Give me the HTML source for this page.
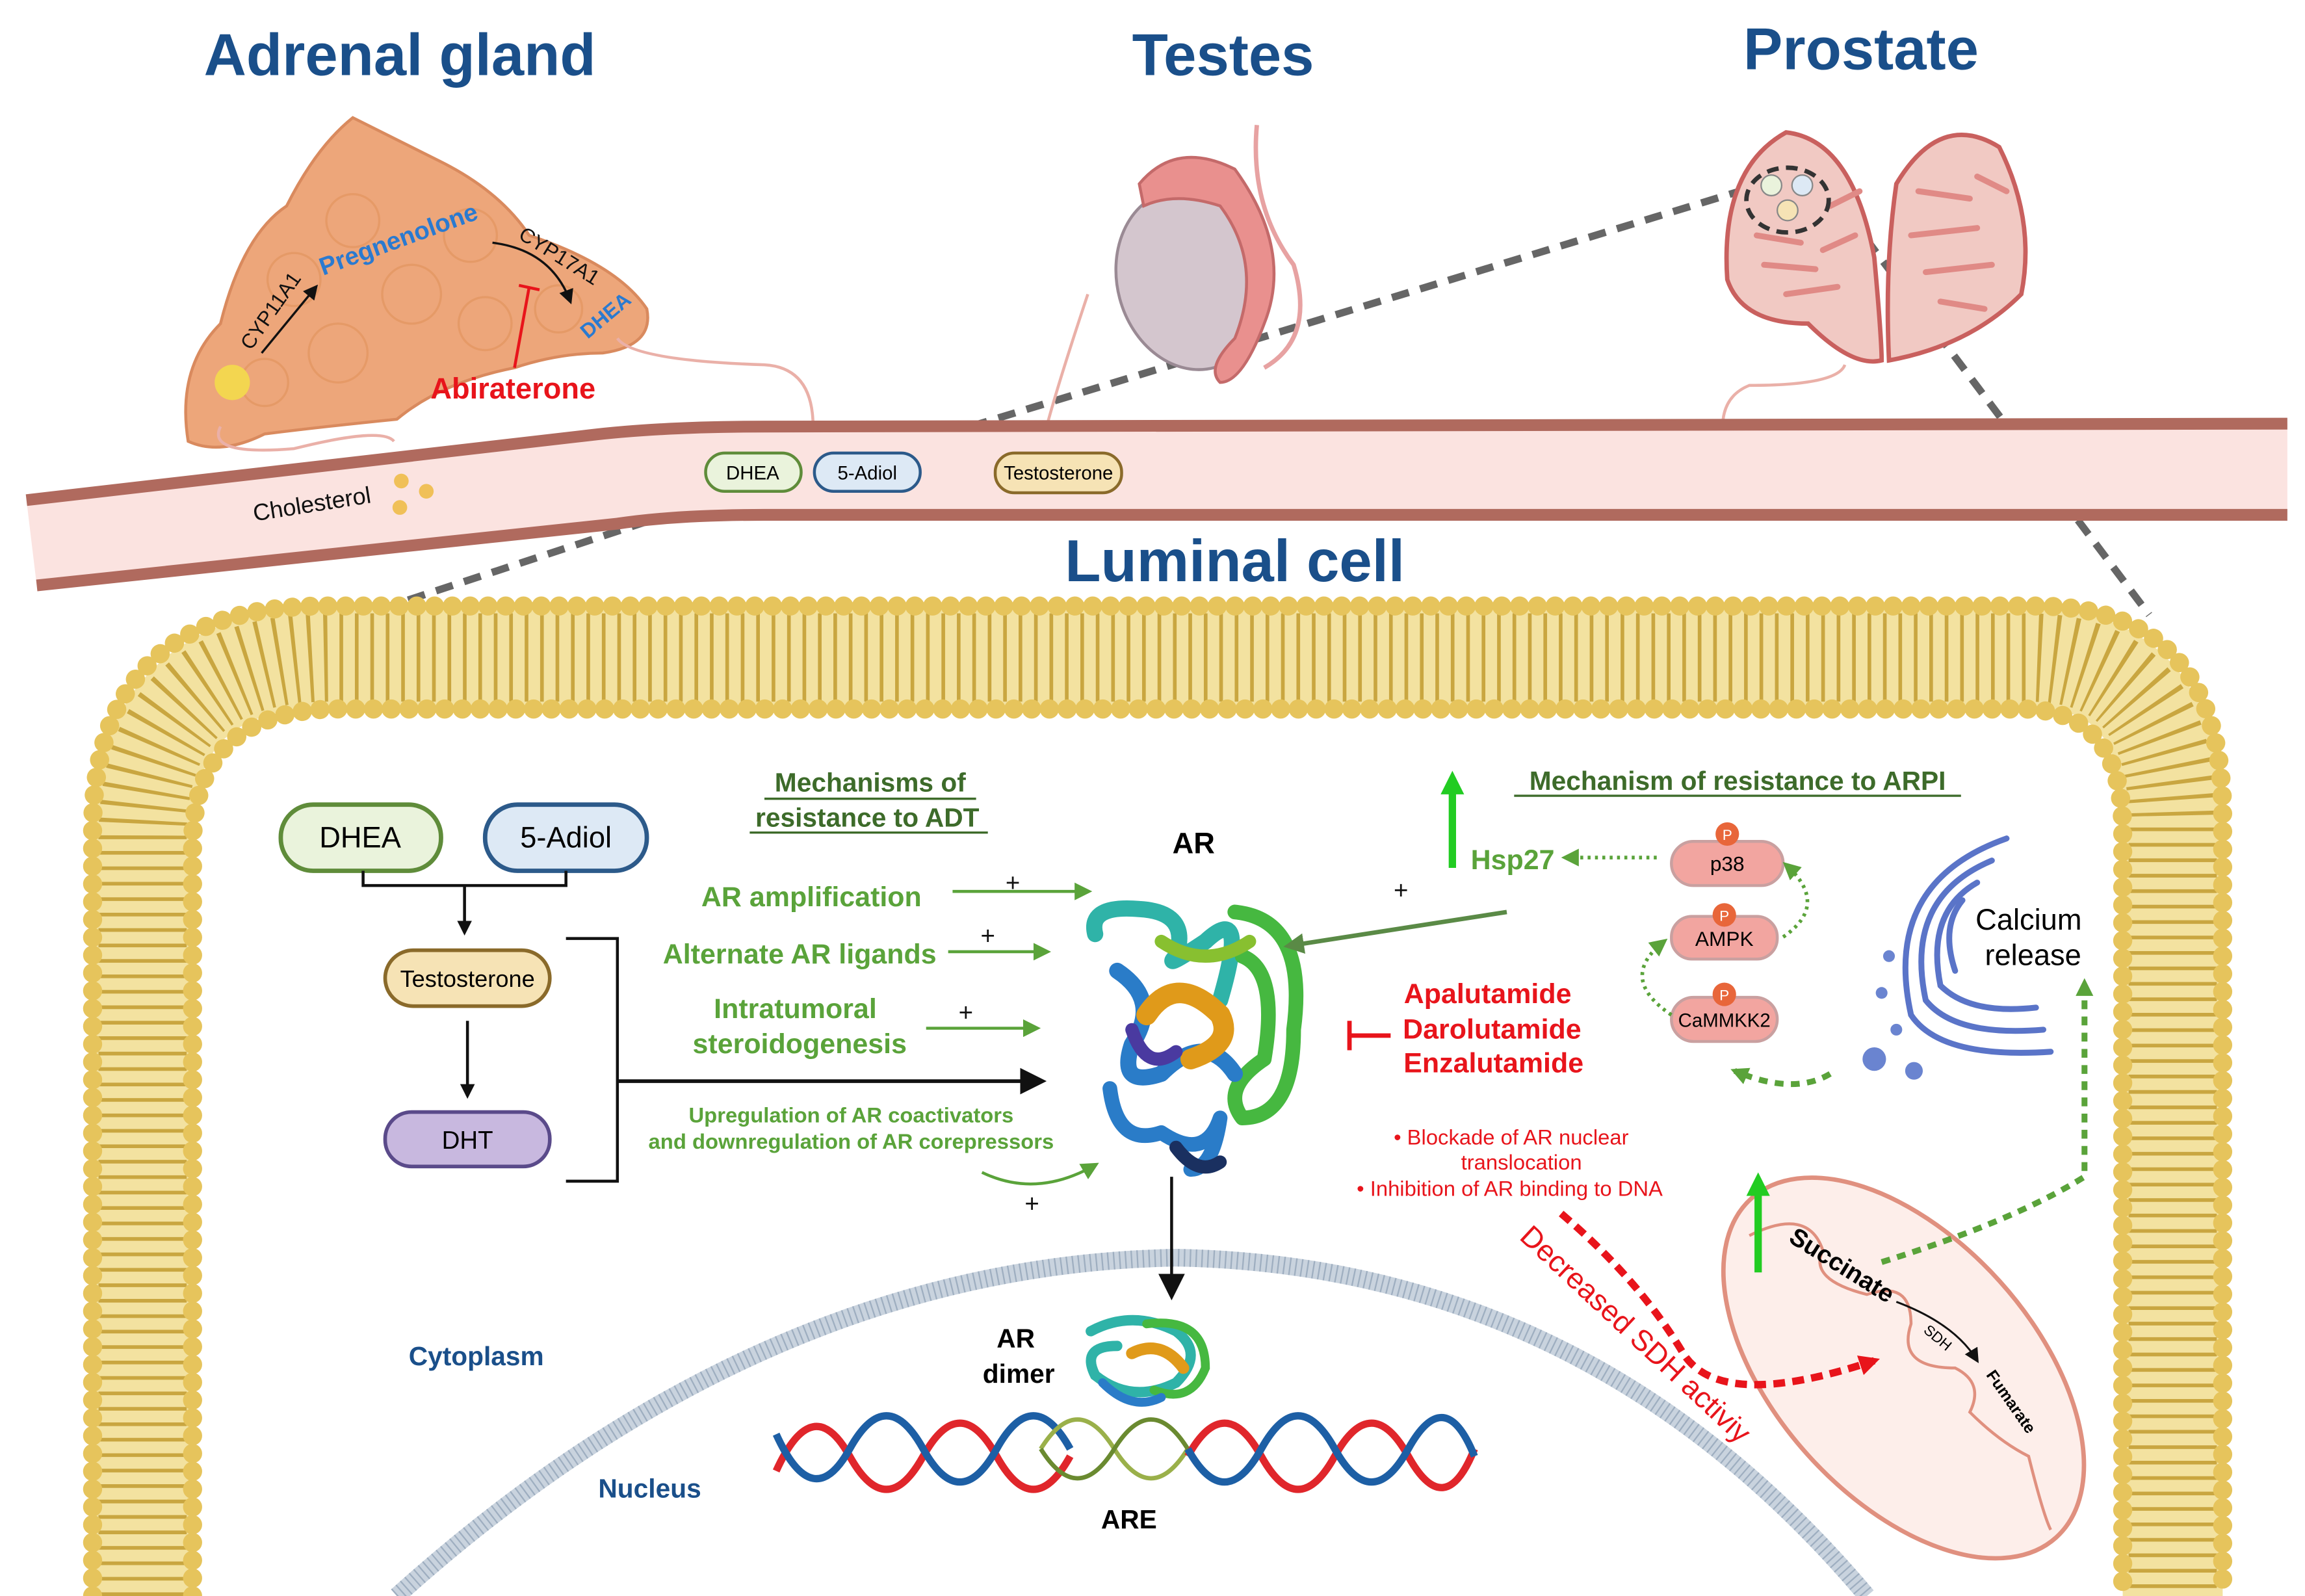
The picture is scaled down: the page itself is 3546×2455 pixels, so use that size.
<!DOCTYPE html>
<html><head><meta charset="utf-8"><style>
html,body{margin:0;padding:0;background:#fff}
svg{display:block}
text{font-family:"Liberation Sans Narrow","Liberation Sans",sans-serif}
</style></head><body>
<svg width="3546" height="2455" viewBox="0 0 1568 1085" preserveAspectRatio="none" xmlns="http://www.w3.org/2000/svg">
<defs>
<marker id="ab" markerWidth="10" markerHeight="10" refX="8" refY="5" orient="auto" markerUnits="userSpaceOnUse"><path d="M0,0 L10,5 L0,10z" fill="#111"/></marker>
<marker id="ag" markerWidth="12" markerHeight="12" refX="9" refY="6" orient="auto" markerUnits="userSpaceOnUse"><path d="M0,0 L12,6 L0,12z" fill="#5aa33a"/></marker>
<marker id="adg" markerWidth="14" markerHeight="14" refX="10" refY="7" orient="auto" markerUnits="userSpaceOnUse"><path d="M0,0 L14,7 L0,14z" fill="#5a8a46"/></marker>
<marker id="ar" markerWidth="14" markerHeight="14" refX="10" refY="7" orient="auto" markerUnits="userSpaceOnUse"><path d="M0,0 L14,7 L0,14z" fill="#e8141b"/></marker>
<marker id="abig" markerWidth="18" markerHeight="18" refX="12" refY="9" orient="auto" markerUnits="userSpaceOnUse"><path d="M0,0 L18,9 L0,18z" fill="#111"/></marker>
<marker id="agr" markerWidth="16" markerHeight="16" refX="10" refY="8" orient="auto" markerUnits="userSpaceOnUse"><path d="M0,0 L16,8 L0,16z" fill="#22cc22"/></marker>
</defs>
<rect width="1568" height="1085" fill="#fff"/>

<g font-weight="bold" fill="#1a4f8a" text-anchor="middle" font-size="40">
<text x="272" y="51">Adrenal gland</text>
<text x="832" y="51">Testes</text>
<text x="1266" y="47">Prostate</text>
<text x="840" y="395">Luminal cell</text>
</g>

<g stroke="#666" stroke-width="5" stroke-dasharray="12 8" fill="none">
<path d="M660 290 L1190 128"/>
<path d="M1245 130 L1462 418"/>
<path d="M460 348 L180 440"/>
</g>

<path d="M128 300 Q120 250 150 220 Q165 160 195 140 Q215 100 240 80 Q270 95 300 110 Q340 130 360 160 Q420 180 440 210 Q445 235 410 240 Q380 240 350 250 Q300 260 270 285 Q220 290 180 295 Q150 310 128 300z" fill="#eda67a" stroke="#d98a5e" stroke-width="2"/>
<g fill="none" stroke="#e3955f" stroke-width="1.5" opacity="0.7">
<circle cx="200" cy="190" r="18"/><circle cx="240" cy="150" r="18"/><circle cx="280" cy="200" r="20"/><circle cx="320" cy="160" r="18"/><circle cx="230" cy="240" r="20"/><circle cx="180" cy="260" r="16"/><circle cx="330" cy="220" r="18"/><circle cx="380" cy="210" r="16"/>
</g>
<circle cx="158" cy="260" r="12" fill="#f3d650"/>
<path d="M150 290 Q140 310 200 305 Q260 290 268 300" fill="none" stroke="#eab0a8" stroke-width="2"/>
<path d="M420 230 Q430 245 520 248 Q555 250 553 295" fill="none" stroke="#eab0a8" stroke-width="2"/>
<path d="M178 240 L215 195" stroke="#111" stroke-width="1.5" marker-end="url(#ab)"/>
<text x="188" y="214" font-size="14" fill="#111" transform="rotate(-55 188 214)" text-anchor="middle">CYP11A1</text>
<text x="273" y="168" font-size="17" font-weight="bold" fill="#2a7ad0" transform="rotate(-20 273 168)" text-anchor="middle">Pregnenolone</text>
<path d="M335 165 Q375 170 388 205" fill="none" stroke="#111" stroke-width="1.5" marker-end="url(#ab)"/>
<text x="378" y="178" font-size="14" fill="#111" transform="rotate(32 378 178)" text-anchor="middle">CYP17A1</text>
<text x="415" y="218" font-size="14" font-weight="bold" fill="#2a7ad0" transform="rotate(-40 415 218)" text-anchor="middle">DHEA</text>
<path d="M350 250 L360 195 M353 194 L367 197" stroke="#e8141b" stroke-width="2" fill="none"/>
<text x="349" y="271" font-size="20" font-weight="bold" fill="#e8141b" text-anchor="middle">Abiraterone</text>

<path d="M855 85 Q850 140 880 180 Q895 230 860 250" fill="none" stroke="#e7a2a2" stroke-width="3"/>
<path d="M740 200 Q720 260 712 290" fill="none" stroke="#eab0a8" stroke-width="2"/>
<ellipse cx="810" cy="190" rx="50" ry="62" fill="#d4c6ce" stroke="#9a8a94" stroke-width="2" transform="rotate(-15 810 190)"/>
<path d="M775 125 Q800 95 840 115 Q880 170 860 220 Q845 260 830 260 Q820 250 840 230 Q860 180 830 140 Q800 130 778 140z" fill="#e9908e" stroke="#c46a6a" stroke-width="2"/>

<path d="M1175 190 Q1170 115 1215 90 Q1260 95 1275 175 Q1280 230 1280 245 Q1260 250 1230 220 Q1185 220 1175 190z" fill="#f1c9c3" stroke="#c9605e" stroke-width="3"/>
<path d="M1285 245 Q1282 180 1290 125 Q1320 75 1360 100 Q1385 150 1375 200 Q1340 235 1285 245z" fill="#f1c9c3" stroke="#c9605e" stroke-width="3"/>
<g stroke="#e08a86" stroke-width="4" stroke-linecap="round">
<path d="M1195 160 L1225 165 M1200 180 L1235 183 M1215 200 L1250 195 M1240 170 L1262 160 M1245 140 L1265 130"/>
<path d="M1305 130 L1340 135 M1300 160 L1345 155 M1310 185 L1355 180 M1320 205 L1350 210 M1345 120 L1365 130"/>
</g>
<ellipse cx="1216" cy="136" rx="28" ry="22" fill="none" stroke="#333" stroke-width="3" stroke-dasharray="8 5"/>
<circle cx="1205" cy="126" r="7" fill="#eaf3dc" stroke="#888"/><circle cx="1226" cy="126" r="7" fill="#dde9f5" stroke="#888"/><circle cx="1216" cy="143" r="7" fill="#f6e3b5" stroke="#888"/>
<path d="M1255 248 Q1250 262 1190 262 Q1170 270 1172 295" fill="none" stroke="#eab0a8" stroke-width="2"/>

<path d="M18 340 L400 296 Q450 290 520 290 L1556 288 L1556 350 L520 350 Q460 350 420 356 L25 398 Z" fill="#fbe3e0"/>
<path d="M18 340 L400 296 Q450 290 520 290 L1556 288" fill="none" stroke="#b06a5e" stroke-width="8"/>
<path d="M1556 350 L520 350 Q460 350 420 356 L25 398" fill="none" stroke="#b06a5e" stroke-width="8"/>
<text x="213" y="348" font-size="16" fill="#111" transform="rotate(-9 213 348)" text-anchor="middle">Cholesterol</text>
<circle cx="273" cy="327" r="5" fill="#f0c058"/><circle cx="290" cy="334" r="5" fill="#f0c058"/><circle cx="272" cy="345" r="5" fill="#f0c058"/>
<rect x="480" y="308" width="65" height="26" rx="13" fill="#eaf3dc" stroke="#5f8c3a" stroke-width="2"/>
<text x="512" y="326" font-size="13" text-anchor="middle">DHEA</text>
<rect x="554" y="308" width="72" height="26" rx="13" fill="#dde9f5" stroke="#2c5a8a" stroke-width="2"/>
<text x="590" y="326" font-size="13" text-anchor="middle">5-Adiol</text>
<rect x="677" y="308" width="86" height="27" rx="13" fill="#f6e3b5" stroke="#8a6a2a" stroke-width="2"/>
<text x="720" y="326" font-size="13" text-anchor="middle">Testosterone</text>

<path d="M97 1085 L97 570 Q97 445 230 447 L1380 447 Q1478 447 1478 560 L1478 1085" fill="none" stroke="#f3e2a0" stroke-width="68"/>
<path d="M97 1085 L97 570 Q97 445 230 447 L1380 447 Q1478 447 1478 560 L1478 1085" fill="none" stroke="#c9a640" stroke-width="60" stroke-dasharray="2.5 8"/>
<path d="M63 1085 L63 565 Q63 410 225 412 L1385 412 Q1512 412 1512 555 L1512 1085" fill="none" stroke="#e6c45c" stroke-width="13" stroke-dasharray="0.1 12" stroke-linecap="round"/>
<path d="M131 1085 L131 575 Q131 480 235 482 L1375 482 Q1444 482 1444 565 L1444 1085" fill="none" stroke="#e6c45c" stroke-width="13" stroke-dasharray="0.1 12" stroke-linecap="round"/>

<path d="M270 1085 Q520 860 800 855 Q1080 860 1270 1085" fill="none" stroke="#c9d3de" stroke-width="12"/>
<path d="M270 1085 Q520 860 800 855 Q1080 860 1270 1085" fill="none" stroke="#9eaec0" stroke-width="12" stroke-dasharray="1 3"/>
<text x="324" y="928" font-size="18" font-weight="bold" fill="#1a4f8a" text-anchor="middle">Cytoplasm</text>
<text x="442" y="1018" font-size="18" font-weight="bold" fill="#1a4f8a" text-anchor="middle">Nucleus</text>

<rect x="191" y="547" width="109" height="45" rx="22" fill="#eaf3dc" stroke="#5f8c3a" stroke-width="3"/>
<text x="245" y="576" font-size="20" text-anchor="middle">DHEA</text>
<rect x="330" y="547" width="110" height="45" rx="22" fill="#dde9f5" stroke="#2c5a8a" stroke-width="3"/>
<text x="385" y="576" font-size="20" text-anchor="middle">5-Adiol</text>
<path d="M247 592 L247 602 L385 602 L385 592 M316 602 L316 634" stroke="#111" stroke-width="2" fill="none" marker-end="url(#ab)"/>
<rect x="262" y="646" width="112" height="38" rx="19" fill="#f6e3b5" stroke="#8a6a2a" stroke-width="2.5"/>
<text x="318" y="671" font-size="16" text-anchor="middle">Testosterone</text>
<path d="M318 694 L318 745" stroke="#111" stroke-width="2" marker-end="url(#ab)"/>
<rect x="262" y="756" width="112" height="37" rx="18" fill="#c8b8df" stroke="#5a4a8a" stroke-width="2.5"/>
<text x="318" y="781" font-size="17" text-anchor="middle">DHT</text>
<path d="M385 638 L420 638 L420 803 L385 803" stroke="#111" stroke-width="2" fill="none"/>
<path d="M420 735 L706 735" stroke="#111" stroke-width="2.5" marker-end="url(#abig)"/>

<g fill="#3d6b2a" font-size="18" font-weight="bold" text-anchor="middle">
<text x="592" y="538">Mechanisms of</text>
<text x="590" y="562">resistance to ADT</text>
</g>
<path d="M520 543 L664 543 M510 566 L672 566" stroke="#3d6b2a" stroke-width="1.5"/>
<g fill="#5aa33a" font-weight="bold" text-anchor="middle">
<text x="552" y="616" font-size="19">AR amplification</text>
<text x="544" y="655" font-size="19">Alternate AR ligands</text>
<text x="541" y="692" font-size="19">Intratumoral</text>
<text x="544" y="716" font-size="19">steroidogenesis</text>
<text x="579" y="763" font-size="14.5">Upregulation of AR coactivators</text>
<text x="579" y="781" font-size="14.5">and downregulation of AR corepressors</text>
</g>
<g stroke="#5aa33a" stroke-width="2" fill="none" marker-end="url(#ag)">
<path d="M648 606 L740 606"/><path d="M645 647 L712 647"/><path d="M630 699 L705 699"/>
<path d="M668 797 Q705 815 745 792"/>
</g>
<g font-size="17" fill="#111" text-anchor="middle"><text x="689" y="606">+</text><text x="672" y="642">+</text><text x="657" y="694">+</text><text x="702" y="824">+</text><text x="953" y="611">+</text></g>

<text x="812" y="580" font-size="20" font-weight="bold" text-anchor="middle">AR</text>
<g fill="none" stroke-linecap="round" stroke-linejoin="round">
<path d="M745 635 Q740 615 775 618 Q810 620 800 650 Q790 660 820 640 Q850 612 830 680" stroke="#2fb3a8" stroke-width="11"/>
<path d="M840 620 Q890 625 880 700 Q880 760 845 760 Q830 740 860 720 Q870 660 845 650" stroke="#46b840" stroke-width="10"/>
<path d="M760 660 Q790 680 770 710 Q760 740 790 730 Q820 700 840 730" stroke="#2a7cc8" stroke-width="11"/>
<path d="M755 740 Q760 780 790 770 Q820 790 830 760 Q825 795 810 795" stroke="#2a7cc8" stroke-width="10"/>
<path d="M780 690 Q800 660 830 690 Q840 710 810 720" stroke="#e09a1a" stroke-width="14"/>
<path d="M770 700 Q780 730 800 715" stroke="#4a3aa0" stroke-width="9"/>
<path d="M790 640 Q820 660 850 640" stroke="#88c030" stroke-width="9"/>
<path d="M800 780 Q815 800 830 790" stroke="#1a3060" stroke-width="9"/>
</g>
<path d="M797 800 L797 878" stroke="#111" stroke-width="2" marker-end="url(#abig)"/>

<g fill="none" stroke-linecap="round">
<path d="M742 905 Q770 890 800 905 Q820 920 800 940 Q770 955 745 935 Q735 915 760 915" stroke="#2fb3a8" stroke-width="7"/>
<path d="M780 900 Q820 895 820 930 Q810 955 785 945" stroke="#46b840" stroke-width="6"/>
<path d="M770 920 Q790 910 805 930" stroke="#e09a1a" stroke-width="8"/>
<path d="M750 940 Q770 960 790 950" stroke="#2a7cc8" stroke-width="6"/>
</g>
<text x="691" y="916" font-size="18" font-weight="bold" text-anchor="middle">AR</text>
<text x="693" y="940" font-size="18" font-weight="bold" text-anchor="middle">dimer</text>

<g fill="none" stroke-width="5">
<path d="M528 1000 Q553 945 578 990 T628 990 T678 990 T728 990" stroke="#e0262b"/>
<path d="M528 975 Q553 1030 578 985 T628 985 T678 985 T728 985" stroke="#1d5fa5"/>
<path d="M708 985 Q733 945 758 985 T808 985" stroke="#9ab04a" stroke-width="3"/>
<path d="M708 985 Q733 1025 758 985 T808 985" stroke="#6a8a30" stroke-width="3"/>
<path d="M808 990 Q833 945 858 990 T908 990 T958 990 T1003 985" stroke="#e0262b"/>
<path d="M808 985 Q833 1030 858 985 T908 985 T958 985 T1003 990" stroke="#1d5fa5"/>
</g>
<text x="768" y="1039" font-size="18" font-weight="bold" text-anchor="middle">ARE</text>

<g fill="#e8141b" font-size="19" font-weight="bold" text-anchor="middle">
<text x="1012" y="682">Apalutamide</text><text x="1015" y="706">Darolutamide</text><text x="1016" y="729">Enzalutamide</text>
</g>
<path d="M918 704 L946 704 M918 694 L918 714" stroke="#e8141b" stroke-width="3"/>
<g fill="#e8141b" font-size="14.5" text-anchor="middle">
<text x="1028" y="778">•  Blockade of AR nuclear</text><text x="1035" y="795">translocation</text><text x="1027" y="813">•  Inhibition of AR binding to DNA</text>
</g>

<text x="1182" y="537" font-size="18" font-weight="bold" fill="#3d6b2a" text-anchor="middle">Mechanism of resistance to ARPI</text>
<path d="M1030 541 L1334 541" stroke="#3d6b2a" stroke-width="1.5"/>
<path d="M988 590 L988 530" stroke="#22cc22" stroke-width="5" marker-end="url(#agr)"/>
<text x="1029" y="591" font-size="19" font-weight="bold" fill="#5aa33a" text-anchor="middle">Hsp27</text>
<path d="M1127 583 L1065 583" stroke="#5aa33a" stroke-width="2.5" stroke-dasharray="2 3" marker-end="url(#ag)"/>
<path d="M1025 620 L877 643" stroke="#5a8a46" stroke-width="3" marker-end="url(#adg)"/>
<rect x="1137" y="572" width="76" height="30" rx="15" fill="#f2a5a0" stroke="#c9a0a0" stroke-width="2"/>
<text x="1175" y="592" font-size="14" text-anchor="middle">p38</text>
<rect x="1137" y="623" width="72" height="29" rx="14" fill="#f2a5a0" stroke="#c9a0a0" stroke-width="2"/>
<text x="1173" y="643" font-size="14" text-anchor="middle">AMPK</text>
<rect x="1137" y="678" width="72" height="30" rx="15" fill="#f2a5a0" stroke="#c9a0a0" stroke-width="2"/>
<text x="1173" y="698" font-size="13" text-anchor="middle">CaMMKK2</text>
<g fill="#e8663a"><circle cx="1175" cy="567" r="8"/><circle cx="1173" cy="622" r="8"/><circle cx="1173" cy="676" r="8"/></g>
<g fill="#fff" font-size="10" text-anchor="middle"><text x="1175" y="571">P</text><text x="1173" y="626">P</text><text x="1173" y="680">P</text></g>
<path d="M1213 637 Q1245 615 1215 588" fill="none" stroke="#5aa33a" stroke-width="2.5" stroke-dasharray="2 3" marker-end="url(#ag)"/>
<path d="M1137 690 Q1100 665 1132 640" fill="none" stroke="#5aa33a" stroke-width="2.5" stroke-dasharray="2 3" marker-end="url(#ag)"/>

<g fill="none" stroke="#5a74c8" stroke-width="4" stroke-linecap="round">
<path d="M1365 570 Q1280 600 1300 690 Q1320 720 1395 715"/>
<path d="M1355 585 Q1295 610 1310 680 Q1330 705 1390 700"/>
<path d="M1345 600 Q1310 620 1320 670 Q1340 690 1385 685"/>
<path d="M1335 612 Q1320 630 1330 660"/>
</g>
<g fill="#6a84d0"><circle cx="1275" cy="720" r="8"/><circle cx="1302" cy="728" r="6"/><circle cx="1285" cy="650" r="4"/><circle cx="1280" cy="675" r="4"/><circle cx="1290" cy="700" r="4"/></g>
<text x="1380" y="632" font-size="20" text-anchor="middle">Calcium</text>
<text x="1383" y="656" font-size="20" text-anchor="middle">release</text>
<path d="M1245 730 Q1220 745 1180 728" fill="none" stroke="#5aa33a" stroke-width="4" stroke-dasharray="6 5" marker-end="url(#ag)"/>

<ellipse cx="1295" cy="930" rx="155" ry="88" transform="rotate(48 1295 930)" fill="#fdeeea" stroke="#e0907f" stroke-width="3"/>
<path d="M1190 840 Q1230 820 1240 850 Q1230 870 1270 880 Q1300 870 1300 900 Q1290 930 1330 930 Q1350 940 1340 960 Q1360 980 1380 990 Q1390 1030 1395 1040" fill="none" stroke="#e0907f" stroke-width="2"/>
<path d="M1196 865 L1196 803" stroke="#22cc22" stroke-width="5" marker-end="url(#agr)"/>
<text x="1250" y="865" font-size="17" font-weight="bold" text-anchor="middle" transform="rotate(32 1250 865)">Succinate</text>
<path d="M1290 885 Q1330 900 1345 925" fill="none" stroke="#111" stroke-width="1.3" marker-end="url(#ab)"/>
<text x="1316" y="912" font-size="10" text-anchor="middle" transform="rotate(40 1316 912)">SDH</text>
<text x="1365" y="955" font-size="11" font-weight="bold" text-anchor="middle" transform="rotate(55 1365 955)">Fumarate</text>
<path d="M1280 858 Q1370 830 1418 800 L1418 668" fill="none" stroke="#5aa33a" stroke-width="4" stroke-dasharray="6 5" marker-end="url(#ag)"/>

<path d="M1062 825 Q1115 870 1145 920 Q1170 960 1275 925" fill="none" stroke="#e8141b" stroke-width="5" stroke-dasharray="8 5" marker-end="url(#ar)"/>
<text x="1108" y="912" font-size="20" fill="#e8141b" text-anchor="middle" transform="rotate(43 1108 912)">Decreased SDH activiy</text>
</svg>
</body></html>
